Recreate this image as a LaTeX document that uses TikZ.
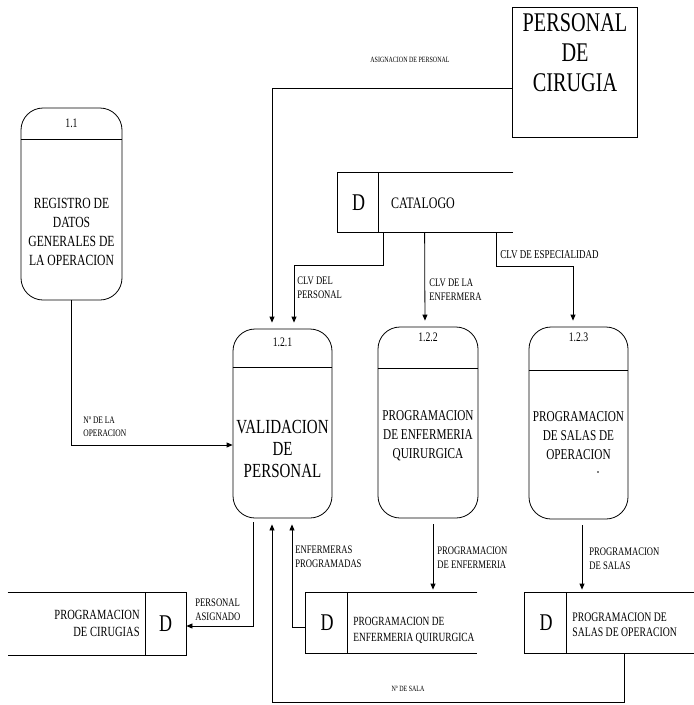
\documentclass[tikz,border=0pt]{standalone}
\usepackage{fontspec}
\setmainfont{Liberation Serif}[FakeStretch=0.75]
\usetikzlibrary{arrows.meta}
\newcommand{\fsz}[2]{\fontsize{#1}{#2}\selectfont}
\begin{document}
\begin{tikzpicture}[x=1pt,y=-1pt,
  line width=0.8pt,
  proc/.style 2 args={draw, rounded corners=22pt, inner sep=0pt,
    minimum width=#1, minimum height=#2},
  store/.style 2 args={inner sep=0pt, minimum width=#1, minimum height=#2},
  entity/.style={draw, inner sep=0pt, minimum width=125pt, minimum height=130pt},
  num/.style={inner sep=0pt, font=\fsz{13}{15}},
  body/.style={inner sep=0pt, align=center},
  dmark/.style={inner sep=0pt, font=\fsz{24}{26}},
  lbl/.style={inner sep=0pt, anchor=west, align=left, font=\fsz{11.5}{14}},
  flow/.style={-{Triangle[length=6pt,width=5pt]}},
  gap/.style={shorten >=6pt}
]
\useasboundingbox (0,0) rectangle (694,705);

% ---- external entity ----
\node[entity] (pers) at (574.5,72) {};
\node[body, font=\fsz{27}{30}] (perstxt) at (575,53) {PERSONAL\\DE\\CIRUGIA};

% ---- processes ----
\node[proc={101pt}{192pt}] (p11) at (71.5,204) {};
\draw ([yshift=-32pt]p11.north west) -- ([yshift=-32pt]p11.north east);
\node[num] (n11) at (71.5,123) {1.1};
\node[body, font=\fsz{15.5}{19}] (t11) at (71.5,231.5)
  {REGISTRO DE\\DATOS\\GENERALES DE\\LA OPERACION};

\node[proc={99pt}{189pt}] (p121) at (282.5,423.5) {};
\draw ([yshift=-39pt]p121.north west) -- ([yshift=-39pt]p121.north east);
\node[num] (n121) at (282.5,342) {1.2.1};
\node[body, font=\fsz{20}{22}] (t121) at (282.5,449) {VALIDACION\\DE\\PERSONAL};

\node[proc={100pt}{191pt}] (p122) at (428,422.5) {};
\draw ([yshift=-42pt]p122.north west) -- ([yshift=-42pt]p122.north east);
\node[num] (n122) at (428,337) {1.2.2};
\node[body, font=\fsz{15}{19}] (t122) at (428,436)
  {PROGRAMACION\\DE ENFERMERIA\\QUIRURGICA};

\node[proc={99pt}{192pt}] (p123) at (578.5,423) {};
\draw ([yshift=-44pt]p123.north west) -- ([yshift=-44pt]p123.north east);
\node[num] (n123) at (578.5,337) {1.2.3};
\node[body, font=\fsz{15}{19}] (t123) at (578.5,436)
  {PROGRAMACION\\DE SALAS DE\\OPERACION};
\fill (598,472) circle (0.9pt);

% ---- data stores ----
\node[store={175pt}{59pt}] (cat) at (425.5,202.5) {};
\draw (cat.north east) -- (cat.north west) -- (cat.south west) -- (cat.south east);
\draw ([xshift=41pt]cat.north west) -- ([xshift=41pt]cat.south west);
\node[dmark] (catD) at (358.5,203) {D};
\node[inner sep=0pt, font=\fsz{16}{18}] (cattxt) at (423,203) {CATALOGO};

\node[store={178pt}{62pt}] (cir) at (97,624) {};
\draw (cir.north west) -- (cir.north east) -- (cir.south east) -- (cir.south west);
\draw ([xshift=-41pt]cir.north east) -- ([xshift=-41pt]cir.south east);
\node[dmark] (cirD) at (165.5,624) {D};
\node[inner sep=0pt, anchor=east, align=right, font=\fsz{14}{17}] (cirtxt)
  at (140,623.5) {PROGRAMACION\\DE CIRUGIAS};

\node[store={171pt}{60pt}] (enf) at (391.5,623) {};
\draw (enf.north east) -- (enf.north west) -- (enf.south west) -- (enf.south east);
\draw ([xshift=42pt]enf.north west) -- ([xshift=42pt]enf.south west);
\node[dmark] (enfD) at (327,623) {D};
\node[inner sep=0pt, anchor=west, align=left, font=\fsz{12.5}{16}] (enftxt)
  at (353,630) {PROGRAMACION DE\\ENFERMERIA QUIRURGICA};

\node[store={169pt}{60pt}] (sal) at (609.5,623) {};
\draw (sal.north east) -- (sal.north west) -- (sal.south west) -- (sal.south east);
\draw ([xshift=42pt]sal.north west) -- ([xshift=42pt]sal.south west);
\node[dmark] (salD) at (546,623) {D};
\node[inner sep=0pt, anchor=west, align=left, font=\fsz{13}{15}] (saltxt)
  at (572,624.5) {PROGRAMACION DE\\SALAS DE OPERACION};

% ---- data flows ----
\draw[flow, gap] ([yshift=-16pt]pers.west) -| ([xshift=-10.5pt]p121.north);
\node[inner sep=0pt, font=\fsz{8}{10}] (lasig) at (410,60) {ASIGNACION DE PERSONAL};

\draw[flow, gap] ([xshift=46pt]cat.south west) -- ++(0,33) -| ([xshift=11.5pt]p121.north);
\node[lbl] (lclvp) at (297,288) {CLV DEL\\PERSONAL};

\draw[flow, gap] ([xshift=87pt]cat.south west) -- ([xshift=-3pt]p122.north);
\node[lbl] (lclve) at (429,290) {CLV DE LA\\ENFERMERA};

\draw[flow, gap] ([xshift=159pt]cat.south west) -- ++(0,34) -| ([xshift=-5.5pt]p123.north);
\node[lbl, font=\fsz{12}{14}] (lclves) at (500,255) {CLV DE ESPECIALIDAD};

\draw[flow] ([xshift=-0.5pt]p11.south) |- ([yshift=-21.5pt]p121.west);
\node[lbl, font=\fsz{10}{13}] (lnop) at (83,427) {Nº DE LA\\OPERACION};

\draw[flow] ([xshift=-29.5pt,yshift=-4pt]p121.south) |- ([yshift=-2pt]cir.east);
\node[lbl] (lpasig) at (195,610) {PERSONAL\\ASIGNADO};

\draw[flow, gap] ([yshift=-4pt]enf.west) -| ([xshift=9.5pt]p121.south);
\node[lbl] (lenfp) at (295,557) {ENFERMERAS\\PROGRAMADAS};

\draw[flow, gap] ([xshift=14.5pt]sal.south) -- ++(0,49) -| ([xshift=-10.5pt]p121.south);
\node[inner sep=0pt, font=\fsz{8}{10}] (lnsala) at (408,689) {Nº DE SALA};

\coordinate (f122) at ([xshift=5pt,yshift=-6pt]p122.south);
\draw[flow, shorten >=3pt] (f122) -- (f122 |- enf.north);
\node[lbl] (lpenf) at (437,558) {PROGRAMACION\\DE ENFERMERIA};

\coordinate (f123) at ([xshift=3.5pt,yshift=-6pt]p123.south);
\draw[flow, shorten >=3pt] (f123) -- (f123 |- sal.north);
\node[lbl] (lpsal) at (589,559) {PROGRAMACION\\DE SALAS};
\end{tikzpicture}
\end{document}
